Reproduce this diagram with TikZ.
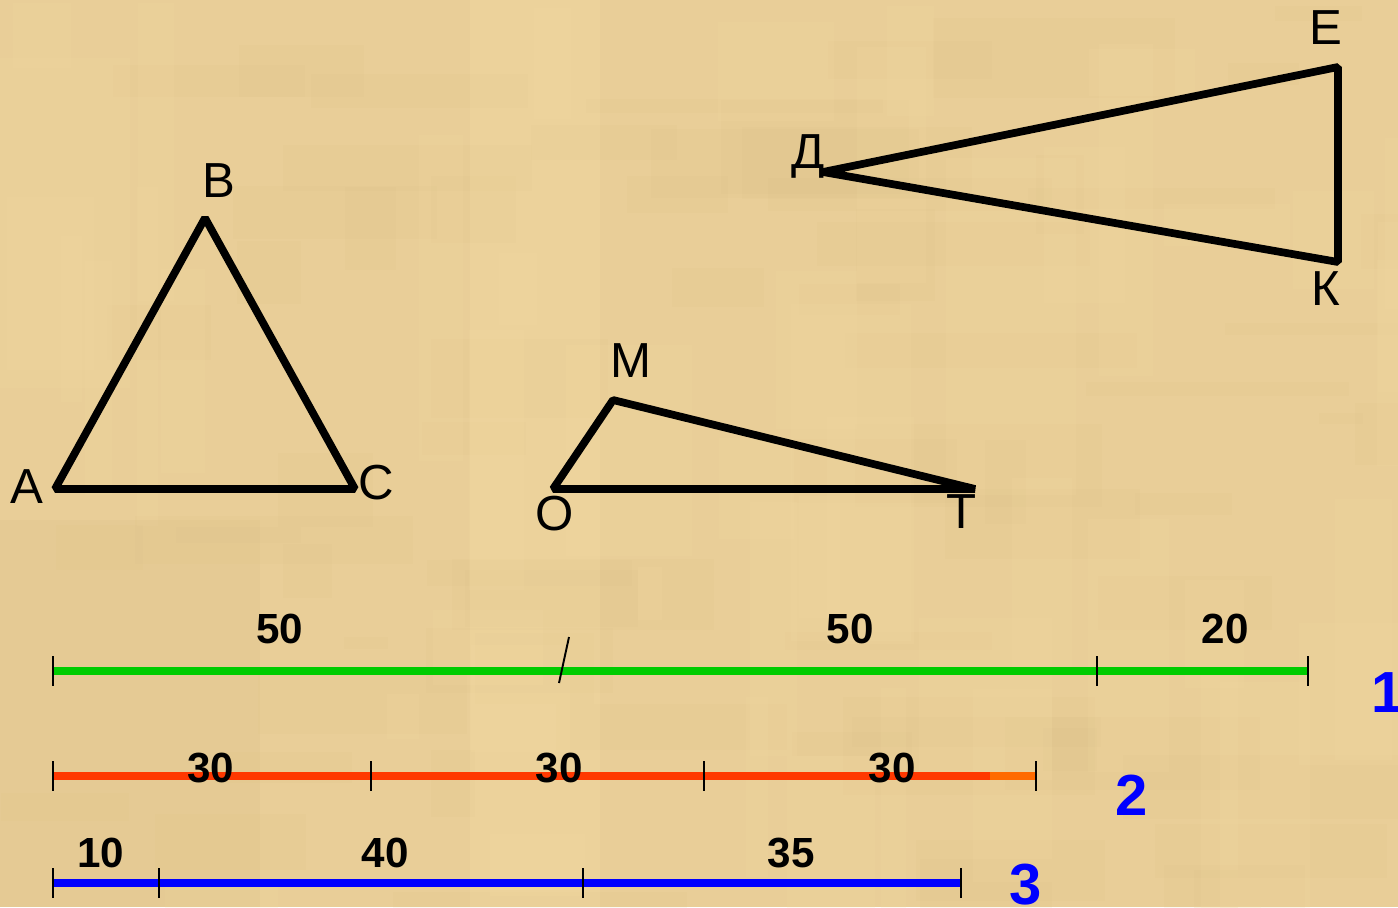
\documentclass[tikz,border=0pt]{standalone}
\usepackage{fontspec}
\setmainfont{Liberation Sans}
\usetikzlibrary{positioning}

\definecolor{parchment}{RGB}{233,206,152}
\definecolor{parchmentlight}{RGB}{246,222,166}
\definecolor{parchmentdark}{RGB}{212,184,128}
\definecolor{segred}{RGB}{255,56,0}
\definecolor{segorange}{RGB}{255,106,0}
\definecolor{seggreen}{RGB}{0,204,0}
\definecolor{segblue}{RGB}{0,0,255}

\tikzset{
  side/.style={draw=black, line width=4.4pt, line join=bevel},
  vertex/.style={font={\fontsize{28}{28}\selectfont}, anchor=base, inner sep=0pt},
  seglen/.style={font={\fontsize{24}{24}\selectfont\bfseries}, anchor=base, inner sep=0pt},
  rownum/.style={text=segblue, font={\fontsize{33}{33}\selectfont\bfseries}, anchor=base, inner sep=0pt},
  tick/.style={draw=black, line width=1.1pt},
  segline/.style={line width=4.5pt}
}

\begin{document}
\begin{tikzpicture}[x=0.02cm, y=-0.02cm]

\clip (0,0) rectangle (1398,907);
\fill [parchment] (0,0) rectangle (1398,907);

% parchment texture
\pgfmathsetseed{11}
\foreach \i in {1,...,70} {
  \pgfmathsetmacro{\px}{rnd*1398}
  \pgfmathsetmacro{\py}{rnd*907}
  \pgfmathsetmacro{\pw}{40+rnd*260}
  \pgfmathsetmacro{\ph}{10+rnd*90}
  \fill [parchmentdark, opacity=.09] (\px,\py) rectangle ++(\pw,\ph);
}
\foreach \i in {1,...,50} {
  \pgfmathsetmacro{\px}{rnd*1398}
  \pgfmathsetmacro{\py}{rnd*907}
  \pgfmathsetmacro{\pw}{20+rnd*120}
  \pgfmathsetmacro{\ph}{40+rnd*300}
  \fill [parchmentlight, opacity=.14] (\px,\py) rectangle ++(\pw,\ph);
}
\fill [parchmentlight, opacity=.25] (470,0) rectangle (600,907);
\fill [parchmentdark, opacity=.15] (0,520) rectangle (260,907);


% triangle ABC
\coordinate (A) at (55,489);
\coordinate (B) at (205,218);
\coordinate (C) at (355,489);
\draw [side] (A) -- (B) -- (C) -- cycle;

\node [vertex] (lA) at (27,503) {А};
\node [vertex] (lB) at (219,197) {В};
\node [vertex] (lC) at (376,499) {С};


% triangle OMT
\coordinate (O) at (553,489);
\coordinate (M) at (613,400);
\coordinate (T) at (975,489);
\draw [side] (O) -- (M) -- (T) -- cycle;

\node [vertex] (lM) at (631,377) {М};
\node [vertex] (lO) at (555,530) {О};
\node [vertex] (lT) at (962,528) {Т};


% triangle DEK
\coordinate (D) at (823,172);
\coordinate (E) at (1338,67);
\coordinate (K) at (1338,262);
\draw [side] (D) -- (E) -- (K) -- cycle;

\node [vertex] (lD) at (808,168) {Д};
\node [vertex] (lE) at (1326,44) {Е};
\node [vertex] (lK) at (1326,305) {К};


% segment 1
\coordinate (g0) at (53,671);
\coordinate (g1) at (1097,671);
\coordinate (g2) at (1308,671);
\coordinate (gcut) at (564,660);
\draw [segline, seggreen] (g0) -- (g2);
\draw [tick] (g0) ++(0,-15) -- ++(0,30);
\draw [tick] (g1) ++(0,-15) -- ++(0,30);
\draw [tick] (g2) ++(0,-15) -- ++(0,30);
\draw [tick] (gcut) ++(5,-23) -- ++(-10,46);

\node [seglen] (n50a) at (280,643) {50};
\node [seglen] (n50b) at (850,643) {50};
\node [seglen] (n20) at (1225,643) {20};
\node [rownum] (row1) at (1388,712) {1};


% segment 2
\coordinate (r0) at (53,776);
\coordinate (r1) at (371,776);
\coordinate (r2) at (704,776);
\coordinate (r3) at (1036,776);
\coordinate (rend) at (990,776);
\draw [segline, segred] (r0) -- (rend);
\draw [segline, segorange] (rend) -- (r3);
\draw [tick] (r0) ++(0,-15) -- ++(0,30);
\draw [tick] (r1) ++(0,-15) -- ++(0,30);
\draw [tick] (r2) ++(0,-15) -- ++(0,30);
\draw [tick] (r3) ++(0,-15) -- ++(0,30);

\node [seglen] (n30a) at (211,782) {30};
\node [seglen] (n30b) at (559,782) {30};
\node [seglen] (n30c) at (892,782) {30};
\node [rownum] (row2) at (1132,815) {2};


% segment 3
\coordinate (b0) at (53,883);
\coordinate (b1) at (159,883);
\coordinate (b2) at (583,883);
\coordinate (b3) at (961,883);
\draw [segline, segblue] (b0) -- (b3);
\draw [tick] (b0) ++(0,-15) -- ++(0,30);
\draw [tick] (b1) ++(0,-15) -- ++(0,30);
\draw [tick] (b2) ++(0,-15) -- ++(0,30);
\draw [tick] (b3) ++(0,-15) -- ++(0,30);

\node [seglen] (n10) at (101,867) {10};
\node [seglen] (n40) at (385,867) {40};
\node [seglen] (n35) at (791,867) {35};
\node [rownum] (row3) at (1026,904) {3};

\end{tikzpicture}
\end{document}
